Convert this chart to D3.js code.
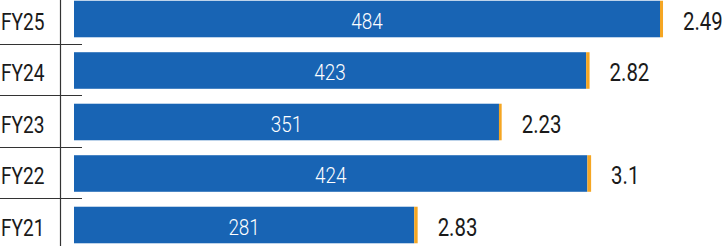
<!DOCTYPE html>
<html>
<head>
<meta charset="utf-8">
<script src="https://cdn.jsdelivr.net/npm/d3@7"></script>
<style>
  html, body { margin: 0; padding: 0; background: #fff; }
  svg { display: block; }
  text { font-family: Roboto, "DejaVu Sans Condensed", sans-serif; }
</style>
</head>
<body>
<svg id="chart" width="724" height="246"></svg>
<script>
const categories = ["FY25", "FY24", "FY23", "FY22", "FY21"];
const mainValues = [484, 423, 351, 424, 281];
const sideValues = [2.49, 2.82, 2.23, 3.1, 2.83];
const sideLabels = ["2.49", "2.82", "2.23", "3.1", "2.83"];

const W = 724, H = 246;
const svg = d3.select("#chart");

const x = d3.scaleLinear().domain([0, 484]).range([74, 660]);
const y = d3.scaleBand().domain(categories).range([-6.75, 250.75]).paddingInner(0.29).paddingOuter(0.145);

const rows = categories.map((c, i) => ({ cat: c, main: mainValues[i], side: sideValues[i], sideLabel: sideLabels[i] }));

// axis line
svg.append("line")
  .attr("x1", 60.5).attr("x2", 60.5).attr("y1", 0).attr("y2", H)
  .attr("stroke", "#333").attr("stroke-width", 1.2);

// separators
const step = y.step();
categories.slice(0, -1).forEach(c => {
  const yy = Math.round(y(c) + y.bandwidth() + (step - y.bandwidth()) / 2) - 0.5;
  svg.append("line")
    .attr("x1", 0).attr("x2", 82).attr("y1", yy).attr("y2", yy)
    .attr("stroke", "#333").attr("stroke-width", 1.2);
});

// category labels
svg.selectAll("text.cat").data(rows).enter().append("text")
  .attr("class", "cat")
  .attr("transform", d => `translate(1,${y(d.cat) + y.bandwidth() / 2 + 10.5}) scale(0.78,1)`)
  .attr("font-size", 24.5)
  .attr("fill", "#1a1a1a")
  .text(d => d.cat);

// blue bars
svg.selectAll("rect.main").data(rows).enter().append("rect")
  .attr("class", "main")
  .attr("x", x(0))
  .attr("y", d => y(d.cat))
  .attr("width", d => x(d.main) - x(0))
  .attr("height", y.bandwidth())
  .attr("fill", "#1864b4");

// orange bars
svg.selectAll("rect.side").data(rows).enter().append("rect")
  .attr("class", "side")
  .attr("x", d => x(d.main))
  .attr("y", d => y(d.cat))
  .attr("width", d => x(d.main + d.side) - x(d.main))
  .attr("height", y.bandwidth())
  .attr("fill", "#f5a623");

// inner labels
svg.selectAll("text.inner").data(rows).enter().append("text")
  .attr("class", "inner")
  .attr("transform", d => `translate(${(x(0) + x(d.main)) / 2},${y(d.cat) + y.bandwidth() / 2 + 9.5}) scale(0.86,1)`)
  .attr("text-anchor", "middle")
  .attr("font-size", 22)
  .attr("font-weight", 300)
  .attr("fill", "#fff")
  .text(d => d.main);

// outer labels
svg.selectAll("text.outer").data(rows).enter().append("text")
  .attr("class", "outer")
  .attr("transform", d => `translate(${x(d.main + d.side) + 20},${y(d.cat) + y.bandwidth() / 2 + 10.5}) scale(0.77,1)`)
  .attr("font-size", 26.5)
  .attr("fill", "#1a1a1a")
  .text(d => d.sideLabel);
</script>
</body>
</html>
